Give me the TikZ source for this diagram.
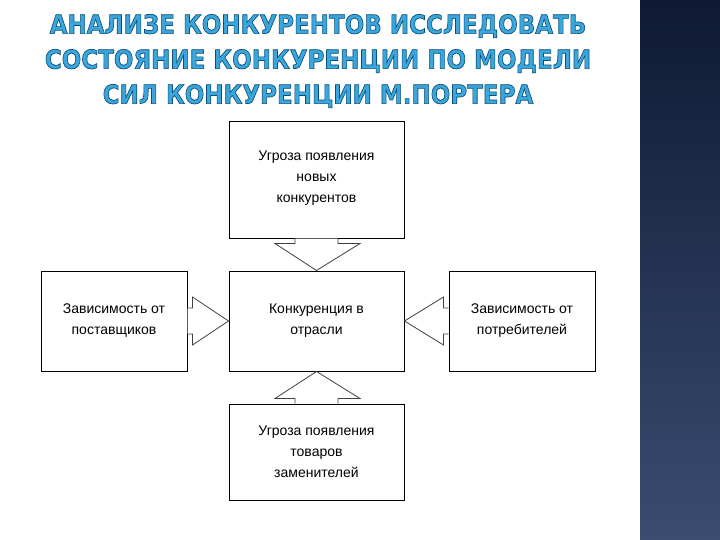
\documentclass[tikz,border=0pt]{standalone}
\usepackage{fontspec}
\usetikzlibrary{calc}
\setmainfont{Liberation Sans}
\newfontfamily\titlefont{DejaVu Sans}
\definecolor{tblue}{HTML}{3AA6DC}
\definecolor{panA}{HTML}{0E1A33}
\definecolor{panB}{HTML}{3A4C70}
\newcommand{\outl}{\special{pdf:literal 0.043 0.31 0.478 RG 0.7 w 2 Tr}}
\newcommand{\outloff}{\special{pdf:literal 0 Tr}}
\begin{document}
\begin{tikzpicture}[x=1pt,y=-1pt,
  box/.style={draw,line width=1pt,minimum width=175pt,align=center,font=\fontsize{14}{21}\selectfont,inner sep=0pt},
  sbox/.style={box,minimum width=146pt,minimum height=100pt},
  ttl/.style={font=\titlefont\bfseries\fontsize{26}{35}\selectfont,align=center,xscale=0.885},
  arr/.style={draw=black!75,line width=0.8pt,fill=white,line join=miter}]
\useasboundingbox (0,0) rectangle (720,540);
\fill[white] (0,0) rectangle (720,540);
\shade[top color=panA,bottom color=panB] (640,0) rectangle (720,540);
% title
\node (title) [text=tblue,ttl] at (318,61) {\outl АНАЛИЗЕ КОНКУРЕНТОВ ИССЛЕДОВАТЬ\\\outl СОСТОЯНИЕ КОНКУРЕНЦИИ ПО МОДЕЛИ\\\outl СИЛ КОНКУРЕНЦИИ М.ПОРТЕРА\outloff};
% boxes
\node (top) [box,minimum height=116pt] at (316.5,180) {\raisebox{28pt}{\parbox{170pt}{\centering Угроза появления\\новых\\конкурентов}}};
\node (mid) [box,minimum height=100pt] at (316.5,321) {\raisebox{6pt}{\parbox{170pt}{\centering Конкуренция в\\отрасли}}};
\node (bot) [box,minimum height=96pt] at (316.5,452) {\raisebox{5pt}{\parbox{170pt}{\centering Угроза появления\\товаров\\заменителей}}};
\node (left) [sbox] at (114,321) {\raisebox{6pt}{\parbox{144pt}{\centering Зависимость от\\поставщиков}}};
\node (right) [sbox] at (522,321) {\raisebox{6pt}{\parbox{144pt}{\centering Зависимость от\\потребителей}}};
% arrows
\draw[arr] ($(top.south)+(-21.5,0)$) -- ++(0,5) -- ++(-20,0) -- (mid.north) -- ($(top.south)+(43.5,5)$) -- ++(-22,0) -- ++(0,-5);
\draw[arr] ($(bot.north)+(-21.5,0)$) -- ++(0,-5) -- ++(-20,0) -- (mid.south) -- ($(bot.north)+(43.5,-5)$) -- ++(-22,0) -- ++(0,5);
\draw[arr] ($(left.east)+(0,-13)$) -- ++(5,0) -- ++(0,-11) -- (mid.west) -- ($(left.east)+(5,24)$) -- ++(0,-11) -- ++(-5,0);
\draw[arr] ($(right.west)+(0,-13)$) -- ++(-5,0) -- ++(0,-11) -- (mid.east) -- ($(right.west)+(-5,24)$) -- ++(0,-11) -- ++(5,0);
\end{tikzpicture}
\end{document}
